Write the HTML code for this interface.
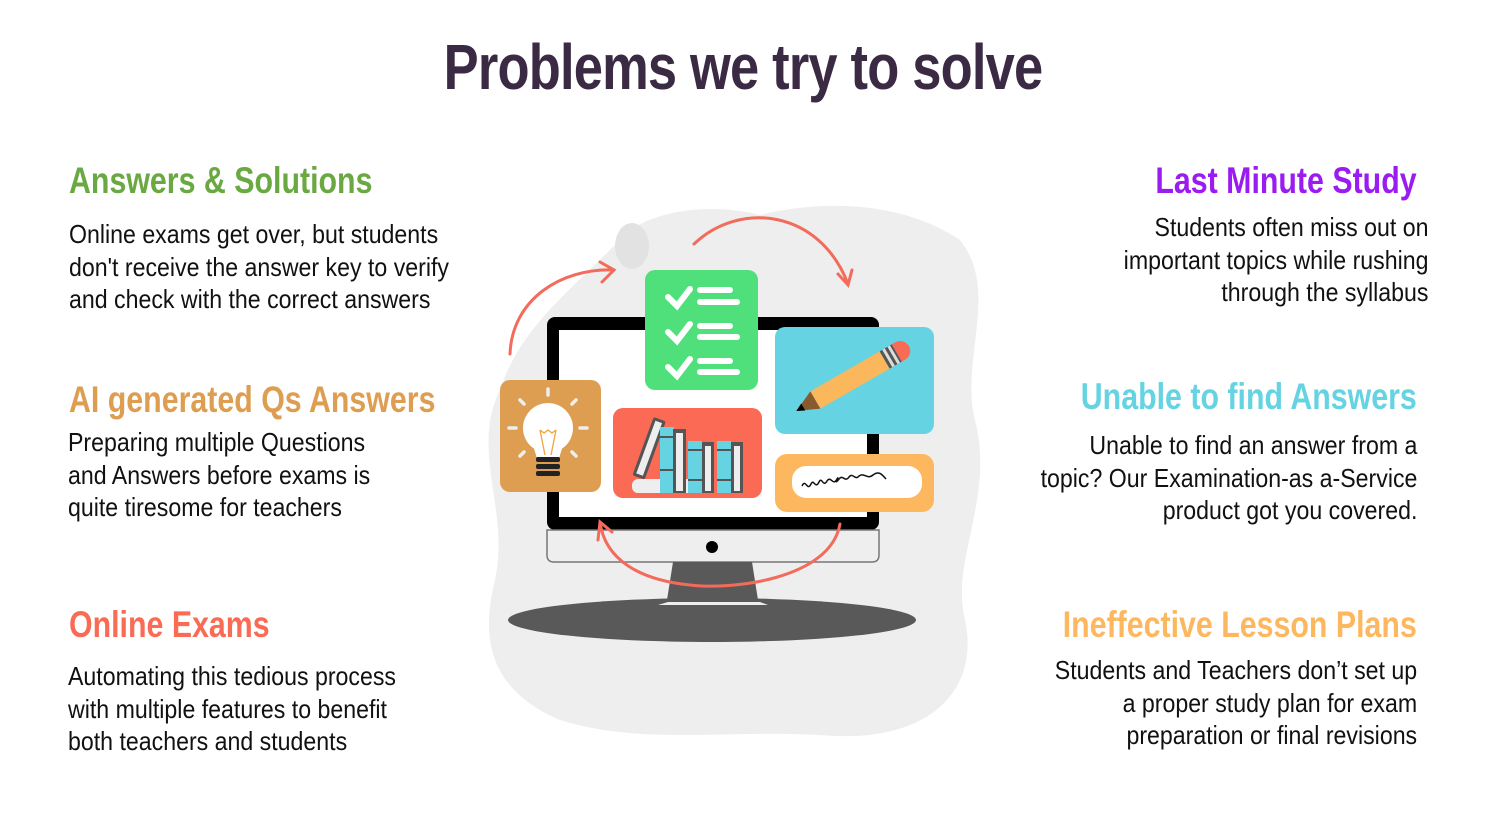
<!DOCTYPE html>
<html><head><meta charset="utf-8"><style>
html,body{margin:0;padding:0;background:#fff;}
body{width:1494px;height:828px;position:relative;overflow:hidden;font-family:"Liberation Sans Narrow","Liberation Sans",sans-serif;}
.t{position:absolute;white-space:nowrap;transform-origin:left top;}
.r{text-align:right;transform-origin:right top;}
h1{position:absolute;margin:0;left:0;width:1486px;text-align:center;top:30px;font-size:64px;font-weight:bold;color:#3b2a43;letter-spacing:-1px;transform:scaleX(0.82);transform-origin:743px 0;}
.h{font-size:37px;font-weight:bold;line-height:40px;transform:scaleX(0.82);}
.b{font-size:26px;line-height:32.5px;color:#111;transform:scaleX(0.89);}
</style></head><body>
<h1>Problems we try to solve</h1>
<svg style="position:absolute;left:0;top:0" width="1494" height="828">
<path d="M620,240 C640,215 700,200 760,215 C820,200 900,200 960,240 C1000,290 960,360 975,420 C995,500 950,560 965,620 C980,690 930,745 820,735 C720,730 640,745 560,720 C490,690 480,640 495,580 C510,510 470,450 500,390 C520,330 560,300 620,240 Z" fill="#eeeeee"/>
<ellipse cx="632" cy="246" rx="17" ry="23" fill="#e2e2e2"/>
<rect x="547" y="317" width="332" height="213" rx="8" fill="#000"/>
<rect x="559" y="330" width="308" height="187" fill="#fff"/>
<path d="M547,530 H879 V555 Q879,562 872,562 H554 Q547,562 547,555 Z" fill="#eeeeee" stroke="#777" stroke-width="1.5"/>
<circle cx="712" cy="547" r="6" fill="#000"/>
<path d="M673,562 H752 L758,600 H667 Z" fill="#595959"/>
<ellipse cx="712" cy="620" rx="204" ry="22" fill="#595959"/>
<path d="M658,605 H768 L760,602 H668 Z" fill="#eee"/>
<rect x="645" y="270" width="113" height="120" rx="10" fill="#4fe07c"/>
<g stroke="#fff" stroke-width="6" stroke-linecap="round" fill="none">
<path d="M668,297 l9,9 l13,-17"/><path d="M668,332 l9,9 l13,-17"/><path d="M668,367 l9,9 l13,-17"/>
<path d="M700,290 h30 M700,302 h37 M700,326 h30 M700,337 h37 M700,361 h30 M700,372 h37"/>
</g>
<rect x="775" y="327" width="159" height="107" rx="10" fill="#66d3e2"/>
<g transform="translate(850,380) rotate(-30)">
<rect x="-40" y="-10" width="80" height="20" fill="#fbb75b"/>
<rect x="40" y="-10" width="14" height="20" fill="#555"/>
<rect x="43" y="-10" width="3" height="20" fill="#ddd"/><rect x="49" y="-10" width="3" height="20" fill="#ddd"/>
<path d="M54,-10 h4 a10,10 0 0 1 0,20 h-4 z" fill="#f96b55"/>
<path d="M-40,-10 L-62,0 L-40,10 Z" fill="#8a5a2f"/>
<path d="M-54,-4 L-62,0 L-54,4 Z" fill="#000"/>
</g>
<rect x="500" y="380" width="101" height="112" rx="10" fill="#dd9e51"/>
<circle cx="548" cy="428" r="25" fill="#fff"/>
<path d="M533,445 H563 L558,462 H538 Z" fill="#fff"/>
<path d="M540,430 L545,455 M556,430 L551,455 M540,430 l4,3 4,-3 4,3 4,-3" stroke="#f3a33a" stroke-width="1.3" fill="none"/>
<rect x="536" y="457" width="24" height="5" rx="2" fill="#222"/><rect x="536" y="464" width="24" height="5" rx="2" fill="#222"/><rect x="536" y="471" width="24" height="5" rx="2" fill="#222"/>
<g stroke="#eee" stroke-width="3.5" stroke-linecap="round"><path d="M548,389v6M520,400l4,4M576,400l-4,4M509,428h7M580,428h7M520,456l4,-4M576,456l-4,-4"/></g>
<rect x="613" y="408" width="149" height="90" rx="10" fill="#fa6a54"/>
<rect x="632" y="479" width="67" height="14" rx="6" fill="#eee"/>
<g transform="translate(648,450) rotate(20)"><rect x="-6" y="-33" width="13" height="62" rx="2" fill="#555"/><rect x="-3" y="-30" width="7" height="56" fill="#eee"/></g>
<rect x="660" y="427" width="14" height="66" fill="#66d3e2"/><rect x="673" y="429" width="13" height="64" fill="#555"/><rect x="676" y="433" width="7" height="58" fill="#eee"/>
<rect x="688" y="441" width="14" height="52" fill="#66d3e2"/><rect x="702" y="442" width="12" height="51" fill="#555"/><rect x="705" y="446" width="6" height="45" fill="#eee"/>
<rect x="717" y="441" width="14" height="52" fill="#66d3e2"/><rect x="731" y="442" width="12" height="51" fill="#555"/><rect x="734" y="446" width="6" height="45" fill="#eee"/>
<g stroke="#555" stroke-width="2"><path d="M660,437h14M660,470h14M688,450h14M688,480h14M717,450h14M717,480h14"/></g>
<rect x="775" y="454" width="159" height="58" rx="12" fill="#fdb85f"/>
<rect x="792" y="466" width="130" height="32" rx="14" fill="#fff"/>
<path d="M802,486 c4,-8 5,6 9,-2 c3,-6 4,6 8,-2 c3,-6 4,6 8,-1 c4,-6 6,6 10,-2 c3,-5 -4,8 2,0 c4,-5 6,4 10,-2 c4,-5 6,4 10,-1 c5,-4 8,4 14,-1 c5,-4 8,-2 13,4" stroke="#111" stroke-width="1.5" fill="none"/>
<g stroke="#f26b5b" stroke-width="3" fill="none" stroke-linecap="round">
<path d="M510,354 C512,300 560,268 614,270"/><path d="M600,262 L614,270 L602,282"/>
<path d="M694,244 C740,200 820,210 848,284"/><path d="M838,274 L848,285 L852,270"/>
<path d="M840,524 C830,580 730,590 690,585 C640,580 605,560 600,522"/><path d="M598,540 L600,522 L612,532"/>
</g>
</svg>
<div class="t h" style="left:69px;top:161px;color:#6aa842;">Answers &amp; Solutions</div>
<div class="t b" style="left:69px;top:218px;">Online exams get over, but students<br>don't receive the answer key to verify<br>and check with the correct answers</div>
<div class="t h" style="left:69px;top:380px;color:#dd9e51;">AI generated Qs Answers</div>
<div class="t b" style="left:68px;top:426px;">Preparing multiple Questions<br>and Answers before exams is<br>quite tiresome for teachers</div>
<div class="t h" style="left:69px;top:605px;color:#f96b55;">Online Exams</div>
<div class="t b" style="left:68px;top:660px;">Automating this tedious process<br>with multiple features to benefit<br>both teachers and students</div>
<div class="t h r" style="right:77px;top:161px;color:#9a1cf0;">Last Minute Study</div>
<div class="t b r" style="right:66px;top:211px;">Students often miss out on<br>important topics while rushing<br>through the syllabus</div>
<div class="t h r" style="right:77px;top:377px;color:#66d3e2;">Unable to find Answers</div>
<div class="t b r" style="right:77px;top:429px;">Unable to find an answer from a<br>topic? Our Examination-as a-Service<br>product got you covered.</div>
<div class="t h r" style="right:77px;top:605px;color:#fdb85f;">Ineffective Lesson Plans</div>
<div class="t b r" style="right:77px;top:654px;">Students and Teachers don’t set up<br>a proper study plan for exam<br>preparation or final revisions</div>
</body></html>
